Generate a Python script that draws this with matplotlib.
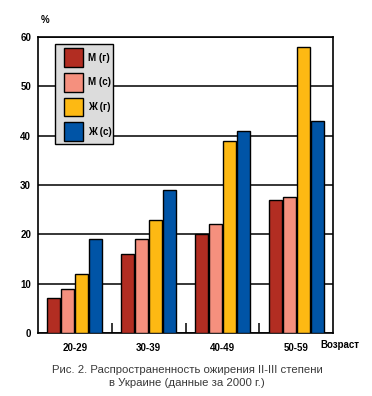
import matplotlib
matplotlib.use("Agg")
import matplotlib.pyplot as plt
import numpy as np
from matplotlib.patches import Rectangle

categories = ["20-29", "30-39", "40-49", "50-59"]
series_labels = ["М (г)", "М (с)", "Ж (г)", "Ж (с)"]
m_city = [7, 16, 20, 27]
m_village = [9, 19, 22, 27.5]
f_city = [12, 23, 39, 58]
f_village = [19, 29, 41, 43]
yticks = [0, 10, 20, 30, 40, 50, 60]

series = [m_city, m_village, f_city, f_village]
colors = ["#b22d22", "#f5907e", "#fdb913", "#0054a6"]

plt.rcParams['font.family'] = ['Liberation Sans', 'DejaVu Sans']

W, H = 372, 396
fig = plt.figure(figsize=(W / 100, H / 100), dpi=100)
ax = fig.add_axes([38 / W, 1 - 333 / H, 295 / W, 296 / H])

x = np.arange(len(categories)) + 0.5
slot = 0.19
bw = 0.175
for i, (vals, c) in enumerate(zip(series, colors)):
    ax.bar(x + (i - 1.5) * slot, vals, width=bw, color=c, edgecolor="black",
           linewidth=1.0, zorder=3, label=series_labels[i])

ax.set_xlim(0, 4)
ax.set_ylim(0, 60)
ax.set_yticks(yticks)
ax.set_yticklabels([str(v) for v in yticks], fontsize=7, fontweight="bold")
ax.yaxis.grid(True, color="black", linewidth=1.1, zorder=0)
ax.set_axisbelow(True)
ax.tick_params(axis="y", length=0, pad=5)

ax.set_xticks(x)
ax.set_xticklabels(categories, fontsize=7, fontweight="bold")
ax.tick_params(axis="x", which="major", length=0, pad=7)
ax.set_xticks([1, 2, 3], minor=True)
ax.tick_params(axis="x", which="minor", direction="in", length=7, width=1.1)

for s in ax.spines.values():
    s.set_linewidth(1.2)

# legend drawn in figure pixel coordinates (top-left origin)
def fx(px):
    return px / W

def fy(py):
    return 1 - py / H

box = Rectangle((fx(55), fy(144)), fx(112.5) - fx(55), fy(44) - fy(144),
                transform=fig.transFigure, facecolor="#dcdcdc", edgecolor="black",
                linewidth=1.0, zorder=10)
fig.add_artist(box)
tops = [48.3, 73.0, 97.6, 122.3]
ph = 18.5
for top, c, lab in zip(tops, colors, series_labels):
    r = Rectangle((fx(64), fy(top + ph)), fx(83.3) - fx(64), fy(top) - fy(top + ph),
                  transform=fig.transFigure, facecolor=c, edgecolor="black",
                  linewidth=1.0, zorder=11)
    fig.add_artist(r)
    fig.text(fx(88), fy(top + ph / 2), lab, fontsize=7, fontweight="bold",
             ha="left", va="center", zorder=12)

fig.text(45 / W, 1 - 20 / H, "%", fontsize=7, fontweight="bold", ha="center", va="center")
fig.text(340 / W, 1 - 345 / H, "Возраст", fontsize=7, fontweight="bold", ha="center", va="center")
fig.text(187 / W, 1 - 370 / H, "Рис. 2. Распространенность ожирения II-III степени",
         fontsize=8.2, ha="center", va="center", color="#3a3a3a")
fig.text(187 / W, 1 - 383 / H, "в Украине (данные за 2000 г.)",
         fontsize=8.2, ha="center", va="center", color="#3a3a3a")

fig.savefig("out.png", dpi=100)
